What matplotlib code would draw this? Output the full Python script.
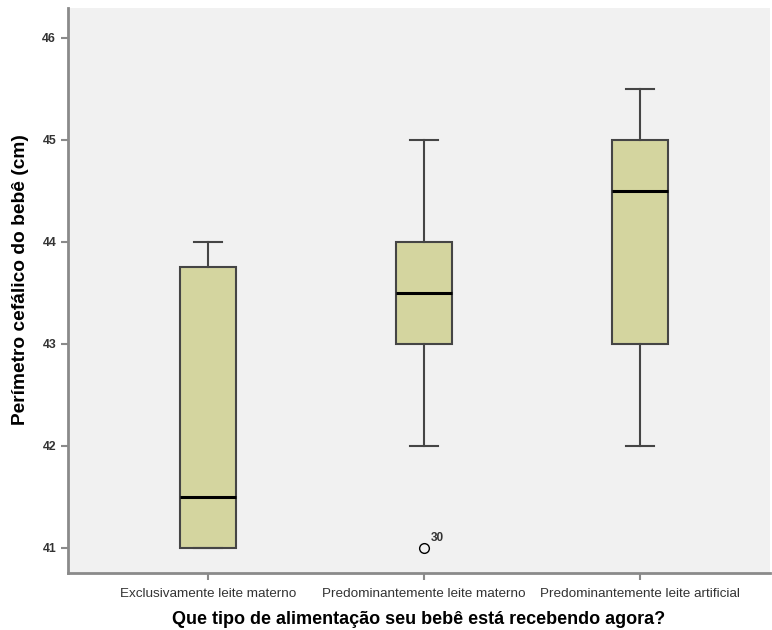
#!/usr/bin/env python3
"""Boxplot: perímetro cefálico por tipo de alimentação."""

import matplotlib.pyplot as plt

plt.rcParams['font.family'] = ['Liberation Sans', 'DejaVu Sans']

categories = ['Exclusivamente leite materno', 'Predominantemente leite materno',
	'Predominantemente leite artificial']
whisker_low = [41.0, 42.0, 42.0]
q1 = [41.0, 43.0, 43.0]
median = [41.5, 43.5, 44.5]
q3 = [43.75, 44.0, 45.0]
whisker_high = [44.0, 45.0, 45.5]
outliers = [[], [41.0], []]
outlier_ids = [[], ['30'], []]
yticks = [41, 42, 43, 44, 45, 46]

BOX_COLOR = '#d4d59f'
EDGE = '#454545'
AXIS_GRAY = '#8a8a8a'

stats = []
for i, name in enumerate(categories):
	stats.append({
		'label': name, 'whislo': whisker_low[i], 'q1': q1[i], 'med': median[i],
		'q3': q3[i], 'whishi': whisker_high[i], 'fliers': outliers[i],
	})

fig = plt.figure(figsize=(7.72, 6.30), dpi=100)
ax = fig.add_axes([0.088, 0.0905, 0.909, 0.8965])
ax.set_facecolor('#f1f1f1')

positions = [1, 2, 3]
ax.bxp(stats, positions=positions, widths=0.26, patch_artist=True,
	boxprops=dict(facecolor=BOX_COLOR, edgecolor=EDGE, linewidth=1.5),
	medianprops=dict(color='black', linewidth=2.2),
	whiskerprops=dict(color=EDGE, linewidth=1.5),
	capprops=dict(color=EDGE, linewidth=1.5),
	flierprops=dict(marker='o', markerfacecolor='none', markeredgecolor='black',
		markersize=7, markeredgewidth=1.0),
	capwidths=0.13)

# outlier case labels
for pos, vals, ids in zip(positions, outliers, outlier_ids):
	for v, lab in zip(vals, ids):
		ax.annotate(lab, (pos, v), xytext=(5, 5), textcoords='offset points',
			fontsize=8.5, fontweight='bold', color='#333333')

ax.set_xlim(0.35, 3.6)
ax.set_ylim(40.755, 46.29)
ax.set_yticks(yticks)
ax.set_yticklabels([str(t) for t in yticks], fontsize=8.8, fontweight='bold', color='#333333')
ax.set_xticks(positions)
ax.set_xticklabels(categories, fontsize=9.7, color='#333333')
ax.tick_params(axis='both', length=5, width=1.5, color=AXIS_GRAY)
ax.tick_params(axis='x', pad=6)

for side in ('top', 'right'):
	ax.spines[side].set_visible(False)
for side in ('left', 'bottom'):
	ax.spines[side].set_color(AXIS_GRAY)
	ax.spines[side].set_linewidth(2)

ax.set_xlabel('Que tipo de alimentação seu bebê está recebendo agora?',
	fontsize=13, fontweight='bold', labelpad=8)
ax.set_ylabel('Perímetro cefálico do bebê (cm)', fontsize=13.8, fontweight='bold')
ax.yaxis.set_label_coords(-0.055, 0.52)

plt.savefig('out.png', dpi=100)
plt.close()
